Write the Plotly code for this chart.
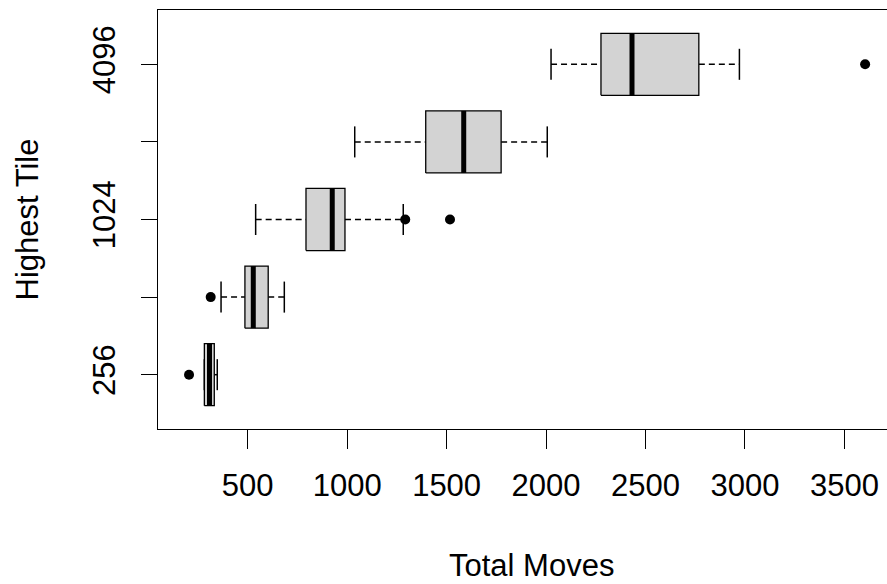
import plotly.graph_objects as go

# Data
tiles = ["256", "512", "1024", "2048", "4096"]
q1 = [282, 486, 793, 1395, 2276]
median = [308, 528, 925, 1586, 2432]
q3 = [332, 603, 989, 1774, 2768]
lower_whisker = [282, 366, 540, 1038, 2025]
upper_whisker = [347, 684, 1282, 2006, 2972]
outliers = [[205], [314], [1292, 1517], [], [3604]]
y_tick_text = ["256", "", "1024", "", "4096"]
x_ticks = [500, 1000, 1500, 2000, 2500, 3000, 3500]

FONT = "Liberation Sans, Arial, Helvetica, sans-serif"
FS = 31
BOX_HALF = 0.4
STAPLE_HALF = 0.2

ypos = list(range(1, len(tiles) + 1))

box_x, box_y = [], []
wh_x, wh_y = [], []
st_x, st_y = [], []
md_x, md_y = [], []
out_x, out_y = [], []
for i, y in enumerate(ypos):
    box_x += [q1[i], q3[i], q3[i], q1[i], q1[i], None]
    box_y += [y - BOX_HALF, y - BOX_HALF, y + BOX_HALF, y + BOX_HALF, y - BOX_HALF, None]
    wh_x += [lower_whisker[i], q1[i], None, q3[i], upper_whisker[i], None]
    wh_y += [y, y, None, y, y, None]
    st_x += [lower_whisker[i], lower_whisker[i], None, upper_whisker[i], upper_whisker[i], None]
    st_y += [y - STAPLE_HALF, y + STAPLE_HALF, None, y - STAPLE_HALF, y + STAPLE_HALF, None]
    md_x += [median[i], median[i], None]
    md_y += [y - BOX_HALF, y + BOX_HALF, None]
    for o in outliers[i]:
        out_x.append(o)
        out_y.append(y)

fig = go.Figure()
fig.add_trace(go.Scatter(x=wh_x, y=wh_y, mode="lines",
                         line=dict(color="black", width=1.5, dash="6px,4px"),
                         hoverinfo="skip", showlegend=False))
fig.add_trace(go.Scatter(x=st_x, y=st_y, mode="lines",
                         line=dict(color="black", width=1.5),
                         hoverinfo="skip", showlegend=False))
fig.add_trace(go.Scatter(x=box_x, y=box_y, mode="lines", fill="toself",
                         fillcolor="#D3D3D3",
                         line=dict(color="black", width=1.3),
                         hoverinfo="skip", showlegend=False))
fig.add_trace(go.Scatter(x=md_x, y=md_y, mode="lines",
                         line=dict(color="black", width=5),
                         hoverinfo="skip", showlegend=False))
fig.add_trace(go.Scatter(x=out_x, y=out_y, mode="markers",
                         marker=dict(color="black", size=10),
                         hoverinfo="skip", showlegend=False))

fig.update_layout(
    width=887, height=584,
    margin=dict(l=158, r=0, t=10, b=155),
    paper_bgcolor="white", plot_bgcolor="white",
    font=dict(family=FONT, size=FS, color="black"),
    xaxis=dict(
        range=[49, 3714], tickvals=x_ticks, ticktext=[str(v) for v in x_ticks],
        showgrid=False, zeroline=False,
        showline=True, mirror=True, linecolor="black", linewidth=1,
        ticks="outside", ticklen=19, tickwidth=1, tickcolor="black",
        ticklabelstandoff=10,
    ),
    yaxis=dict(
        range=[0.3, 5.7], tickvals=ypos, ticktext=y_tick_text,
        tickangle=-90,
        showgrid=False, zeroline=False,
        showline=True, mirror=False, linecolor="black", linewidth=1,
        ticks="outside", ticklen=16, tickwidth=1, tickcolor="black",
        ticklabelstandoff=14,
        title=dict(text="Highest Tile", standoff=38, font=dict(size=FS)),
    ),
    annotations=[dict(text="Total Moves", xref="paper", yref="paper",
                      x=0.5123, y=-0.3246, xanchor="center", yanchor="middle",
                      showarrow=False, font=dict(size=FS))],
)

fig.write_html("out.html")
